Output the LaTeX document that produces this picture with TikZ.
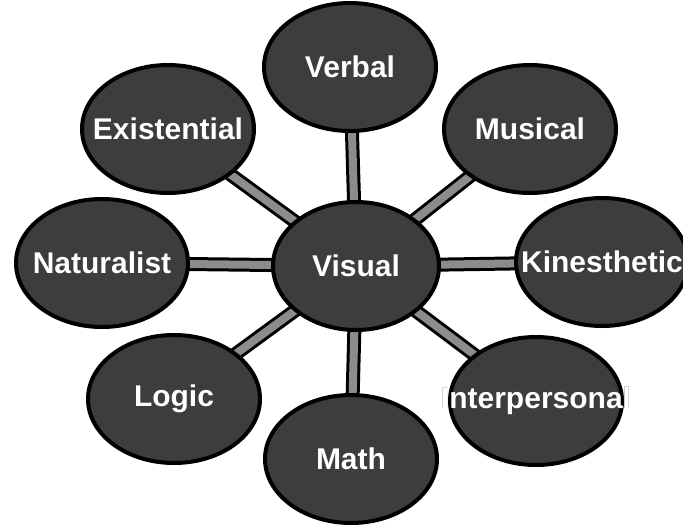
\documentclass[tikz,border=0pt]{standalone}
\usepackage{fontspec}
\setsansfont{Liberation Sans}
\usepackage[outline]{contour}
\contourlength{0.9pt}
\usetikzlibrary{shapes.geometric,backgrounds}
\newcommand{\lbl}[1]{\makebox[0pt]{\contour{black!85}{#1}}}

\begin{document}
\begin{tikzpicture}[x=1pt, y=-1pt,
        idea/.style={ellipse, draw=black, line width=4pt, fill=black!76, inner sep=0pt,
            minimum width=172pt, minimum height=128pt, text=white,
            font=\sffamily\bfseries\fontsize{30}{32}\selectfont},
        barout/.style={line width=14pt, draw=black},
        barin/.style={line width=8pt, draw=black!45}
    ]
    \useasboundingbox (0,0) rectangle (683,525);

    % Centro
    \node[idea, minimum width=166pt] (visual) at (356,266) {\lbl{Visual}};

    % Inteligencias ao redor
    \node[idea] (verbal) at (350,67) {\lbl{Verbal}};
    \node[idea] (exist) at (168,129) {\lbl{Existential}};
    \node[idea] (musical) at (530,129) {\lbl{Musical}};
    \node[idea] (natural) at (102,263) {\lbl{Naturalist}};
    \node[idea] (kines) at (602,262) {\lbl{Kinesthetic}};
    \node[idea] (logic) at (174,399) {\lbl{Logic}};
    \node[idea] (inter) at (536,401) {\lbl{Interpersonal}};
    \node[idea] (math) at (351,459) {\lbl{Math}};

    % Ligacoes
    \begin{pgfonlayer}{background}
    \foreach \n in {verbal, exist, musical, natural, kines, logic, inter, math} {
        \draw[barout] (visual.center) -- (\n.center);
        \draw[barin] (visual.center) -- (\n.center);
    }
    \end{pgfonlayer}

\end{tikzpicture}
\end{document}
